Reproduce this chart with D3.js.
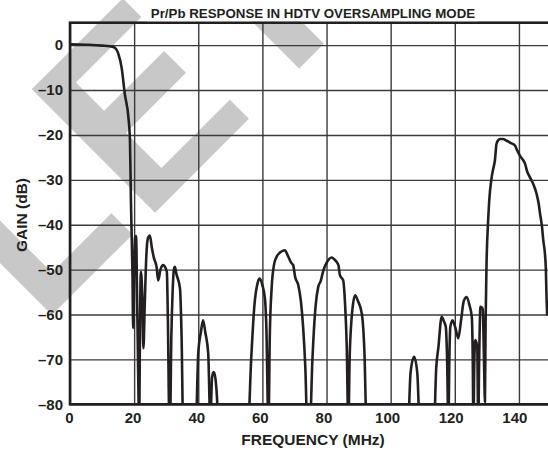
<!DOCTYPE html>
<html>
<head>
<meta charset="utf-8">
<script src="https://cdn.jsdelivr.net/npm/d3@7"></script>
<style>
  body { margin: 0; background: #fff; }
  text {
    font-family: 'Liberation Sans', Arial, Helvetica, sans-serif;
    font-weight: bold;
    fill: #231f20;
  }
</style>
</head>
<body>
<main></main>
<script>
const title = 'Pr/Pb RESPONSE IN HDTV OVERSAMPLING MODE';
const xLabel = 'FREQUENCY (MHz)';
const yLabel = 'GAIN (dB)';

const xTicks = [0, 20, 40, 60, 80, 100, 120, 140];
const yTicks = [0, -10, -20, -30, -40, -50, -60, -70, -80];

// traced response, one row per lobe (values below -80 are clipped by the frame)
const freqMHz = [
  0, 5, 10, 13.5, 14.5, 15.1, 16.1, 17.1, 18.2, 18.7, 19.0, 19.2,
  19.5, 19.7, 20.0, 20.3, 20.6, 21.0, 21.6, 21.8, 22.1, 22.5, 22.9, 23.3, 23.8, 24.3, 24.9, 25.5, 26.2, 27.0, 27.5, 28.2, 29.1, 29.7, 30.2, 30.5, 31.0,
  31.2, 31.6, 32.0, 32.4, 32.7, 33.2, 34.3, 34.8, 35.3,
  39.2, 40.0, 40.8, 41.5, 42.2, 43.1, 43.8,
  44.0, 44.3, 44.8, 45.3, 45.8, 46.3,
  55.5, 56.5, 57.5, 58.5, 59.2, 60.0, 60.8, 61.2, 61.9,
  62.3, 62.9, 63.6, 64.4, 65.5, 67.0, 68.0, 69.0, 69.6, 70.2, 71.2, 72.0, 72.7, 73.4, 74.0,
  74.8, 75.6, 76.6, 77.4, 78.2, 79.0, 80.0, 81.6, 82.8, 83.7, 84.2, 85.2, 85.8, 86.3, 86.8,
  87.2, 87.8, 88.2, 88.9, 89.8, 91.0, 91.8, 92.5,
  105.4, 106.2, 107.3, 108.3, 109.1,
  113.5, 114.2, 114.9, 115.9, 116.6, 117.2, 117.6, 118.0,
  118.3, 118.6, 119.3, 120.2, 121.1, 122.0, 122.8, 123.7, 124.6, 125.3, 125.6, 125.8,
  126.1, 126.4, 127.0, 127.3,
  127.6, 128.0, 128.7, 129.1, 129.4,
  129.6, 129.9, 130.4, 130.7, 131.5, 132.0, 132.5, 133.0, 133.5, 134.1, 135.0, 136.2, 137.5, 138.8, 139.5,
  140.3, 141.2, 141.9, 142.5, 143.4, 144.5, 145.5, 146.2, 146.6, 147.2, 147.6, 148.1, 148.4, 148.6, 148.8,
];

const gainDb = [
  0.2, 0.1, -0.1, -0.4, -1, -2, -5, -10.9, -16, -21.3, -34.6, -41.3,
  -52, -63, -52, -42.8, -42.5, -60, -84, -65, -50.5, -55, -67.5, -58, -47, -43, -42.4, -45, -47.5, -49.4, -52.4, -50, -49, -49.5, -50.5, -60, -84,
  -84, -65, -55, -50, -49.4, -51, -54.2, -65, -85,
  -85, -68.6, -64, -61.3, -64, -68.6, -85,
  -80, -74, -72.8, -74, -78, -85,
  -85, -70, -58, -53, -52, -53.5, -56.5, -62, -85,
  -65, -53.9, -49, -47.2, -46.2, -45.7, -47, -48.5, -49, -51.6, -53.5, -57, -62.8, -72, -85,
  -85, -70, -58, -53.9, -52.5, -50.2, -48.5, -47.3, -48, -49, -51.3, -52.4, -58, -67, -85,
  -70, -61, -58, -55.7, -57, -59.8, -68, -85,
  -85, -73, -69.4, -73, -85,
  -85, -72, -67.2, -60.5, -61.5, -62.8, -70, -85,
  -70, -62.8, -61.3, -63, -65.3, -61, -57, -56.1, -58, -60.5, -70, -85,
  -70, -65.7, -67.2, -85,
  -70, -58.3, -58.7, -70, -79.5,
  -62, -48.7, -39, -35, -29.4, -27.5, -25.7, -22, -21.2, -20.9, -20.9, -21.3, -21.8, -22.4, -23.5,
  -24.6, -25.5, -26.4, -28, -29.4, -31, -33.1, -35.5, -37.6, -40.5, -43.5, -46.4, -50, -56, -60.2,
];

const data = freqMHz.map((f, i) => ({ f, g: gainDb[i] }));

const width = 548;
const height = 452;
const plot = { left: 70, top: 22.7, right: 551, bottom: 404.3 };

const x = d3.scaleLinear().domain([0, 150]).range([plot.left, plot.right]);
const y = d3.scaleLinear().domain([-80, 5]).range([plot.bottom, plot.top]);

const dash = d => (d < 0 ? '\u2013' + Math.abs(d) : String(d));

const svg = d3
  .select('main')
  .append('svg')
  .attr('width', width)
  .attr('height', height)
  .attr('viewBox', [0, 0, width, height]);

// grey "preliminary" watermark, drawn in a 45 degree (u, v) frame
const watermark = [
  // E
  [[85.6, -40.7], [85.6, 88], [112, 88], [112, -4.7], [152, -4.7], [152, 80], [183, 80],
   [183, -4.7], [233, -4.7], [233, 92], [260, 92], [260, -40.7]],
  // L
  [[60, -186], [259.5, -186], [259.5, -72], [229.5, -72], [229.5, -156], [60, -156]],
  // leg of R
  [[0, 163], [260, 163], [260, 198], [0, 198]],
];
const uv = ([u, v]) => [(u + v) / Math.SQRT2, (u - v) / Math.SQRT2];

svg
  .append('g')
  .selectAll('path')
  .data(watermark)
  .join('path')
  .attr('d', d => 'M' + d.map(uv).join('L') + 'Z')
  .attr('fill', '#c8c8c8');

// grid + tick labels
const plotW = plot.right - plot.left;
const plotH = plot.bottom - plot.top;

const xAxis = svg
  .append('g')
  .attr('transform', `translate(0 ${plot.bottom})`)
  .call(
    d3.axisBottom(x).tickValues(xTicks).tickSize(-plotH).tickPadding(8).tickFormat(dash)
  );

const yAxis = svg
  .append('g')
  .attr('transform', `translate(${plot.left} 0)`)
  .call(
    d3.axisLeft(y).tickValues(yTicks).tickSize(-plotW).tickPadding(7).tickFormat(dash)
  );

[xAxis, yAxis].forEach(ax => {
  ax.select('.domain').remove();
  ax.selectAll('line').attr('stroke', '#3a3a3a').attr('stroke-width', 1.4);
  ax.selectAll('text')
    .attr('font-size', 15)
    .attr('font-family', null)
    .attr('fill', '#231f20');
});
xAxis.selectAll('text').attr('dx', d => -(1 + d * 0.026));

// response curve
svg
  .append('clipPath')
  .attr('id', 'plot-clip')
  .append('rect')
  .attr('x', plot.left)
  .attr('y', plot.top)
  .attr('width', plotW)
  .attr('height', plotH);

const line = d3
  .line()
  .x(d => x(d.f))
  .y(d => y(d.g))
  .curve(d3.curveMonotoneX);

svg
  .append('path')
  .datum(data)
  .attr('clip-path', 'url(#plot-clip)')
  .attr('d', line)
  .attr('fill', 'none')
  .attr('stroke', '#231f20')
  .attr('stroke-width', 2.6)
  .attr('stroke-linejoin', 'round');

// frame
svg
  .append('rect')
  .attr('x', plot.left)
  .attr('y', plot.top)
  .attr('width', plotW)
  .attr('height', plotH)
  .attr('fill', 'none')
  .attr('stroke', '#231f20')
  .attr('stroke-width', 2.6);

// title sits on a white box over the watermark
svg
  .append('rect')
  .attr('x', 147)
  .attr('y', 0)
  .attr('width', 332)
  .attr('height', plot.top - 1.5)
  .attr('fill', '#fff');

svg
  .append('text')
  .attr('x', 313)
  .attr('y', 17.5)
  .attr('text-anchor', 'middle')
  .attr('font-size', 13.3)
  .text(title);

svg
  .append('text')
  .attr('x', 313)
  .attr('y', 445)
  .attr('text-anchor', 'middle')
  .attr('font-size', 15.5)
  .text(xLabel);

svg
  .append('text')
  .attr('transform', 'translate(26.5 215) rotate(-90)')
  .attr('text-anchor', 'middle')
  .attr('font-size', 15.5)
  .text(yLabel);
</script>
</body>
</html>
